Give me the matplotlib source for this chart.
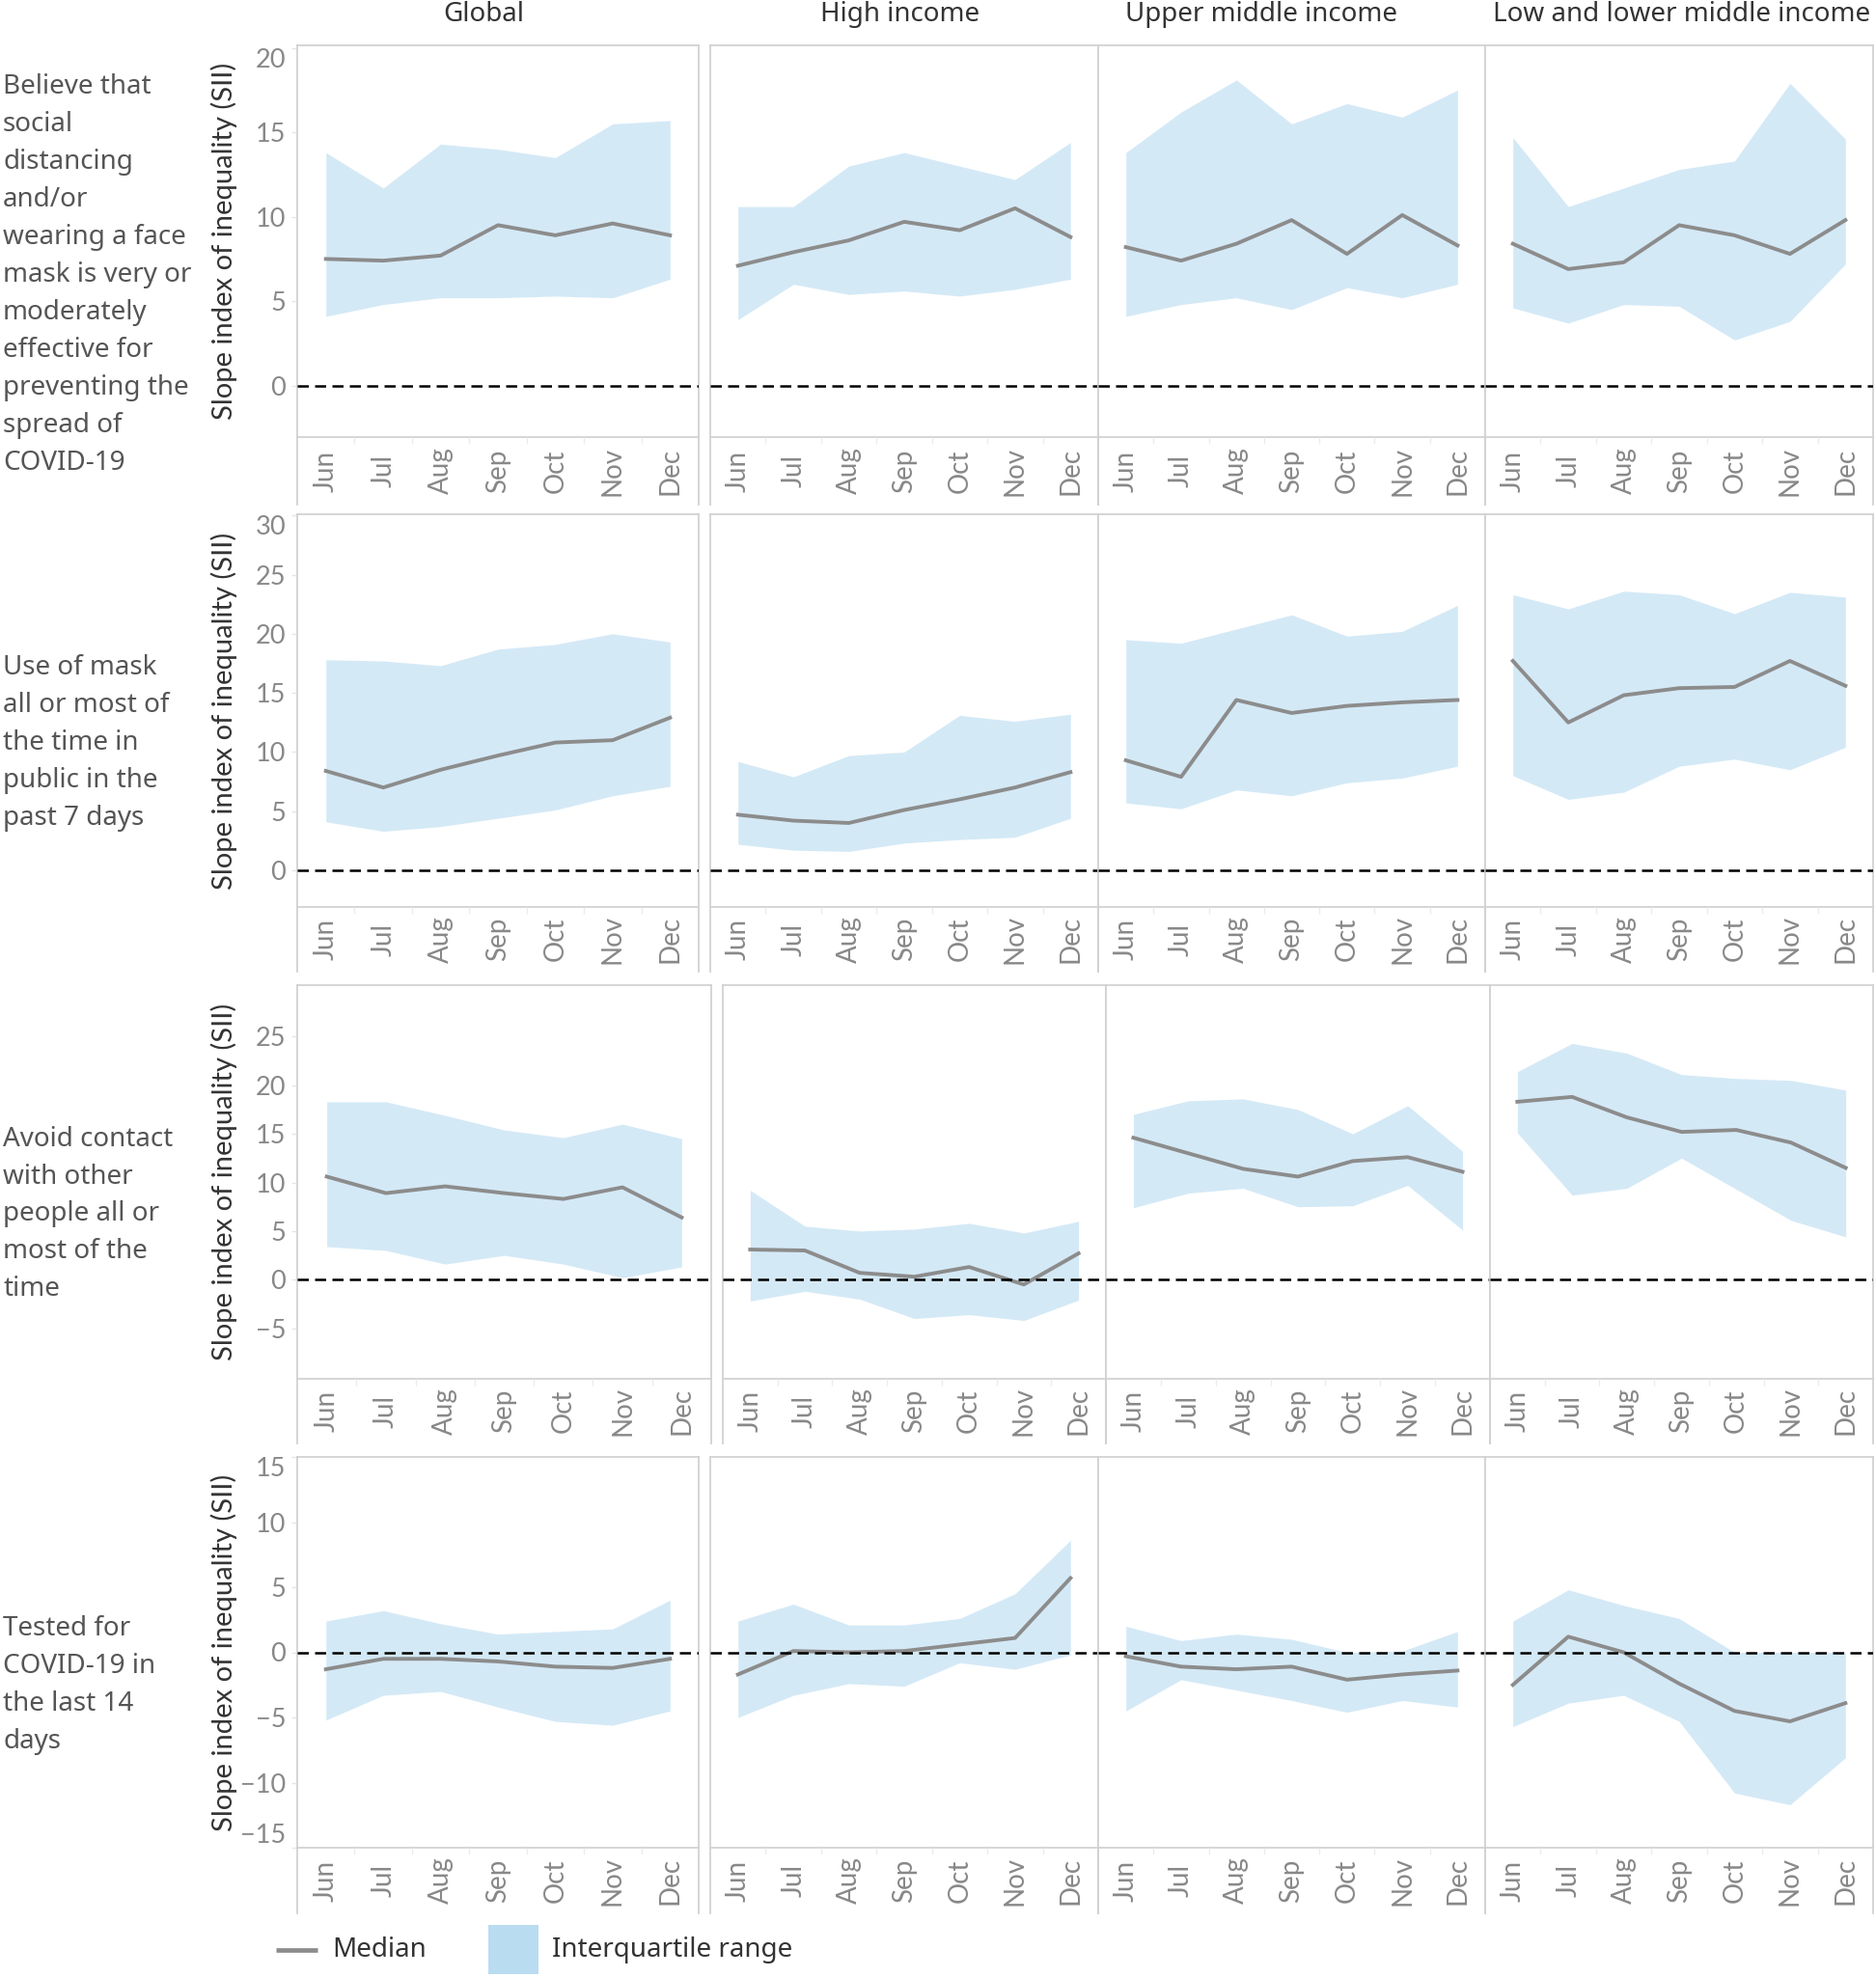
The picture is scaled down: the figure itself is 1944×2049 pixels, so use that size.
import matplotlib
matplotlib.use('Agg')
import matplotlib.pyplot as plt
from matplotlib.patches import Rectangle
import numpy as np

plt.rcParams['font.family'] = ['Lato', 'DejaVu Sans']

W, H, DPI = 1944, 2049, 100

months = ['Jun', 'Jul', 'Aug', 'Sep', 'Oct', 'Nov', 'Dec']
regions = ['Global', 'High income', 'Upper middle income', 'Low and lower middle income']
row_titles = [
    'Believe that\nsocial\ndistancing\nand/or\nwearing a face\nmask is very or\nmoderately\neffective for\npreventing the\nspread of\nCOVID-19',
    'Use of mask\nall or most of\nthe time in\npublic in the\npast 7 days',
    'Avoid contact\nwith other\npeople all or\nmost of the\ntime',
    'Tested for\nCOVID-19 in\nthe last 14\ndays',
]
y_title = 'Slope index of inequality (SII)'

# one list per region: Global, High, Upper middle, Low and lower middle
belief_med = [[7.5, 7.4, 7.7, 9.5, 8.9, 9.6, 8.9],
              [7.1, 7.9, 8.6, 9.7, 9.2, 10.5, 8.8],
              [8.2, 7.4, 8.4, 9.8, 7.8, 10.1, 8.3],
              [8.4, 6.9, 7.3, 9.5, 8.9, 7.8, 9.8]]
belief_q1 = [[4.1, 4.8, 5.2, 5.2, 5.3, 5.2, 6.3],
             [3.9, 6.0, 5.4, 5.6, 5.3, 5.7, 6.3],
             [4.1, 4.8, 5.2, 4.5, 5.8, 5.2, 6.0],
             [4.6, 3.7, 4.8, 4.7, 2.7, 3.8, 7.2]]
belief_q3 = [[13.8, 11.7, 14.3, 14.0, 13.5, 15.5, 15.7],
             [10.6, 10.6, 13.0, 13.8, 13.0, 12.2, 14.4],
             [13.8, 16.2, 18.1, 15.5, 16.7, 15.9, 17.5],
             [14.7, 10.6, 11.7, 12.8, 13.3, 17.9, 14.6]]

mask_med = [[8.4, 7.0, 8.5, 9.7, 10.8, 11.0, 12.9],
            [4.7, 4.2, 4.0, 5.1, 6.0, 7.0, 8.3],
            [9.3, 7.9, 14.4, 13.3, 13.9, 14.2, 14.4],
            [17.7, 12.5, 14.8, 15.4, 15.5, 17.7, 15.6]]
mask_q1 = [[4.1, 3.3, 3.7, 4.4, 5.1, 6.3, 7.1],
           [2.2, 1.7, 1.6, 2.3, 2.6, 2.8, 4.4],
           [5.7, 5.2, 6.8, 6.3, 7.4, 7.8, 8.8],
           [8.0, 6.0, 6.6, 8.8, 9.4, 8.5, 10.4]]
mask_q3 = [[17.8, 17.7, 17.3, 18.7, 19.1, 20.0, 19.3],
           [9.2, 7.9, 9.7, 10.0, 13.1, 12.6, 13.2],
           [19.5, 19.2, 20.4, 21.6, 19.8, 20.2, 22.4],
           [23.3, 22.1, 23.6, 23.3, 21.7, 23.5, 23.1]]

contact_med = [[10.6, 8.9, 9.6, 8.9, 8.3, 9.5, 6.4],
               [3.1, 3.0, 0.7, 0.3, 1.3, -0.5, 2.7],
               [14.6, 13.0, 11.4, 10.6, 12.2, 12.6, 11.1],
               [18.3, 18.8, 16.7, 15.2, 15.4, 14.1, 11.5]]
contact_q1 = [[3.4, 3.0, 1.6, 2.5, 1.6, 0.2, 1.3],
              [-2.2, -1.2, -2.0, -4.0, -3.6, -4.2, -2.1],
              [7.4, 8.9, 9.4, 7.5, 7.6, 9.7, 5.1],
              [15.1, 8.7, 9.4, 12.5, 9.3, 6.1, 4.4]]
contact_q3 = [[18.3, 18.3, 16.9, 15.4, 14.6, 16.0, 14.5],
              [9.2, 5.5, 5.0, 5.2, 5.8, 4.8, 6.0],
              [17.0, 18.4, 18.6, 17.5, 15.0, 17.9, 13.2],
              [21.4, 24.3, 23.3, 21.1, 20.7, 20.5, 19.5]]

tested_med = [[-1.3, -0.5, -0.5, -0.7, -1.1, -1.2, -0.5],
              [-1.7, 0.1, 0.0, 0.1, 0.6, 1.1, 5.7],
              [-0.3, -1.1, -1.3, -1.1, -2.1, -1.7, -1.4],
              [-2.5, 1.2, 0.0, -2.4, -4.5, -5.3, -3.9]]
tested_q1 = [[-5.2, -3.3, -3.0, -4.2, -5.3, -5.6, -4.5],
             [-5.0, -3.3, -2.4, -2.6, -0.8, -1.3, -0.2],
             [-4.5, -2.1, -2.9, -3.7, -4.6, -3.7, -4.2],
             [-5.7, -3.9, -3.3, -5.3, -10.8, -11.7, -8.1]]
tested_q3 = [[2.4, 3.2, 2.2, 1.4, 1.6, 1.8, 4.0],
             [2.4, 3.7, 2.1, 2.1, 2.6, 4.5, 8.6],
             [2.0, 0.9, 1.4, 1.0, 0.0, 0.1, 1.6],
             [2.4, 4.8, 3.6, 2.6, 0.0, 0.0, 0.0]]

rows = [(belief_med, belief_q1, belief_q3),
        (mask_med, mask_q1, mask_q3),
        (contact_med, contact_q1, contact_q3),
        (tested_med, tested_q1, tested_q3)]

# layout in pixels of the full figure
row_px = [(47, 453, 523), (533, 940, 1007), (1021, 1429, 1496), (1510, 1915, 1983)]
col_px = [(308, 724), (736, 1138), (1138, 1539), (1539, 1941)]
col_px_r3 = [(308, 737), (749, 1146), (1146, 1544), (1544, 1941)]
ylims = [(-3.05, 20.15), (-3.1, 30.1), (-10.2, 30.3), (-15.0, 15.0)]
yticks = [range(0, 21, 5), range(0, 31, 5), range(-5, 26, 5), range(-15, 16, 5)]
title_x = [501, 933, 1307, 1743]

IQR = '#d4e9f6'
IQR_LEG = '#badcf0'
MED = '#8c8c8c'
BORDER = '#d2d2d2'
TICK = '#888888'
DARK = '#333333'
LABEL = '#555555'
NOTO = ['Noto Sans', 'DejaVu Sans']

fig = plt.figure(figsize=(W / DPI, H / DPI), dpi=DPI)

canvas = fig.add_axes([0, 0, 1, 1], zorder=-1)
canvas.set_xlim(0, W)
canvas.set_ylim(H, 0)
canvas.axis('off')


def px_axes(x0, x1, y0, y1):
    return fig.add_axes([x0 / W, 1 - y1 / H, (x1 - x0) / W, (y1 - y0) / H])


x = np.arange(len(months))

for r, (med, q1, q3) in enumerate(rows):
    top, bottom, lab_bottom = row_px[r]
    cols = col_px_r3 if r == 2 else col_px
    for c in range(4):
        x0, x1 = cols[c]
        ax = px_axes(x0, x1, top, bottom)
        ax.fill_between(x, q1[c], q3[c], color=IQR, lw=0, zorder=1)
        ax.plot(x, med[c], color=MED, lw=2.8, zorder=2)
        ax.axhline(0, color='black', lw=1.8, dashes=(4.6, 2.6), zorder=3)
        ax.set_xlim(-0.5, 6.5)
        ax.set_ylim(*ylims[r])
        ax.set_xticks([])
        for s in ax.spines.values():
            s.set_color(BORDER)
            s.set_linewidth(1.3)
        if c == 0:
            ax.set_yticks(list(yticks[r]))
            ax.tick_params(axis='y', length=4, width=1, color='#e6e6e6',
                           labelsize=19.5, labelcolor=TICK, pad=4.5)
            ticks = ax.yaxis.get_major_ticks()
            vals = list(yticks[r])
            for tk, v in zip(ticks, vals):
                if abs(v - ylims[r][1]) < 0.5:
                    tk.label1.set_va('top')
                elif abs(v - ylims[r][0]) < 0.5:
                    tk.label1.set_va('bottom')
        else:
            ax.set_yticks([])

        lab = px_axes(x0, x1, bottom, lab_bottom)
        lab.set_xlim(-0.5, 6.5)
        lab.set_ylim(0, 1)
        lab.set_xticks([])
        lab.set_yticks([])
        lab.patch.set_alpha(0)
        lab.spines['top'].set_visible(False)
        lab.spines['bottom'].set_visible(False)
        for side in ('left', 'right'):
            lab.spines[side].set_color(BORDER)
            lab.spines[side].set_linewidth(1.3)
        lab.vlines(x[:-1] + 0.5, 0.9, 1.0, color='#ececec', lw=1)
        for i, m in enumerate(months):
            lab.text(i, 0.5, m, rotation=90, ha='center', va='center',
                     fontsize=20, color=TICK)

    canvas.text(232, (top + bottom) / 2, y_title, rotation=90, ha='center', va='center',
                fontsize=21, color=DARK)
    canvas.text(3, (top + lab_bottom) / 2, row_titles[r], ha='left', va='center',
                fontsize=20, color=LABEL, family=NOTO, linespacing=1.52)

for c, name in enumerate(regions):
    canvas.text(title_x[c], 15, name, ha='center', va='center', fontsize=20,
                color=DARK, family=NOTO)

# legend
canvas.plot([286, 329], [2021, 2021], color=MED, lw=3.4, solid_capstyle='butt')
canvas.text(344, 2021, 'Median', ha='left', va='center', fontsize=20, color=DARK, family=NOTO)
canvas.add_patch(Rectangle((506, 1995), 52, 51, color=IQR_LEG, lw=0))
canvas.text(572, 2021, 'Interquartile range', ha='left', va='center', fontsize=20,
            color=DARK, family=NOTO)

fig.savefig('out.png', dpi=DPI)
